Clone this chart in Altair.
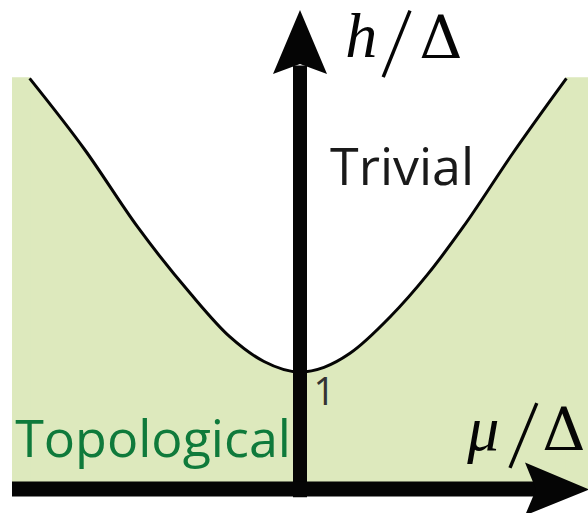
import altair as alt
import pandas as pd

# Phase boundary h/Δ versus μ/Δ (upper edge of the topological region)
curve_mu = [-3.38, -2.69, -2.03, -1.375, -0.875, -0.45, 0.0, 0.3, 0.625, 1.125, 1.59, 2.04, 2.66, 3.33]
curve_h = [3.51, 2.90, 2.24, 1.675, 1.30, 1.09, 1.0, 1.04, 1.16, 1.47, 1.83, 2.24, 2.87, 3.51]

# Shaded topological region: bounded by the boundary and the top of the panel
panel_mu = [-3.6, 3.6]
panel_top = 3.52

# Region labels and the marked intercept
region_labels = ["Trivial", "Topological"]
intercept_label = "1"

X_DOMAIN = [-3.75, 3.6]
Y_DOMAIN = [-0.205, 4.18]
xs = alt.Scale(domain=X_DOMAIN, nice=False, zero=False)
ys = alt.Scale(domain=Y_DOMAIN, nice=False, zero=False)

GREEN_FILL = "#dde9bd"
GREEN_TEXT = "#0f7a3b"
INK = "#050505"

curve_df = pd.DataFrame({"mu": curve_mu, "h": curve_h})
strips_df = pd.DataFrame({
    "m0": [panel_mu[0], curve_mu[-1] - 0.01],
    "m1": [curve_mu[0] + 0.01, panel_mu[1]],
    "top": [panel_top, panel_top],
})

X = lambda f: alt.X(f, type="quantitative", scale=xs, axis=None)
Y = lambda f: alt.Y(f, type="quantitative", scale=ys, axis=None)

region = alt.Chart(curve_df).mark_area(
    color=GREEN_FILL, interpolate="monotone", opacity=1
).encode(x=X("mu"), y=Y("h"), y2=alt.datum(0))

region_edges = alt.Chart(strips_df).mark_rect(color=GREEN_FILL, opacity=1).encode(
    x=X("m0"), x2="m1", y=Y("top"), y2=alt.datum(0)
)

boundary = alt.Chart(curve_df).mark_line(
    color=INK, strokeWidth=3, interpolate="monotone"
).encode(x=X("mu"), y=Y("h"))

one = pd.DataFrame({"v": [0]})

# Axes drawn as thick arrows
v_shaft = alt.Chart(one).mark_rule(color=INK, strokeWidth=14, strokeCap="butt").encode(
    x=alt.datum(0.0, scale=xs), y=alt.datum(-0.07, scale=ys), y2=alt.datum(3.62)
)
h_shaft = alt.Chart(one).mark_rule(color=INK, strokeWidth=15, strokeCap="butt").encode(
    y=alt.datum(0.0, scale=ys), x=alt.datum(-3.6, scale=xs), x2=alt.datum(3.0)
)
up_head = alt.Chart(one).mark_point(
    shape="M0,0L27,64L0,54L-27,64Z", size=4, filled=True, opacity=1,
    color=INK, strokeWidth=0
).encode(x=alt.datum(0.0, scale=xs), y=alt.datum(4.094, scale=ys))
right_head = alt.Chart(one).mark_point(
    shape="M0,0L-64,-27L-53,0L-64,26Z", size=4, filled=True, opacity=1,
    color=INK, strokeWidth=0
).encode(x=alt.datum(3.6125, scale=xs), y=alt.datum(-0.004, scale=ys))

def label(text, mu, h, **style):
    return alt.Chart(pd.DataFrame({"t": [text]})).mark_text(**style).encode(
        x=alt.datum(mu, scale=xs), y=alt.datum(h, scale=ys), text="t:N"
    )

def slash(mu0, h0, mu1, h1):
    return alt.Chart(one).mark_rule(color=INK, strokeWidth=3.4).encode(
        x=alt.datum(mu0, scale=xs), y=alt.datum(h0, scale=ys),
        x2=alt.datum(mu1), y2=alt.datum(h1),
    )

sans = dict(font="Open Sans", align="left", baseline="alphabetic")
trivial = label(region_labels[0], 0.375, 2.6, fontSize=52, color="#1a1a1a", **sans)
topological = label(region_labels[1], -3.56, 0.274, fontSize=52, color=GREEN_TEXT, **sans)
intercept = label(intercept_label, 0.17, 0.72, fontSize=38, color="#333333", **sans)

# Axis titles h/Δ and μ/Δ
h_sym = label("h", 0.765, 3.69, font="Liberation Serif", fontStyle="italic", fontSize=64,
              align="center", baseline="alphabetic", color=INK)
h_slash = slash(1.04, 3.52, 1.375, 4.09)
h_delta = label("Δ", 1.76, 3.68, font="DejaVu Serif", fontSize=60,
                align="center", baseline="alphabetic", color=INK)

mu_sym = label("μ", 2.29, 0.33, font="Liberation Serif", fontStyle="italic", fontSize=64,
               align="center", baseline="alphabetic", color=INK)
mu_slash = slash(2.625, 0.18, 2.96, 0.735)
mu_delta = label("Δ", 3.3, 0.33, font="DejaVu Serif", fontSize=60,
                 align="center", baseline="alphabetic", color=INK)

chart = alt.layer(
    region, region_edges, boundary, v_shaft, h_shaft, up_head, right_head,
    trivial, topological, intercept,
    h_sym, h_slash, h_delta, mu_sym, mu_slash, mu_delta,
).properties(
    width=588, height=513, padding=0, autosize=alt.AutoSizeParams(type="none"),
    background="white",
).configure_view(stroke=None)

chart.save("out.html", embed_options={"renderer": "svg", "actions": False})
